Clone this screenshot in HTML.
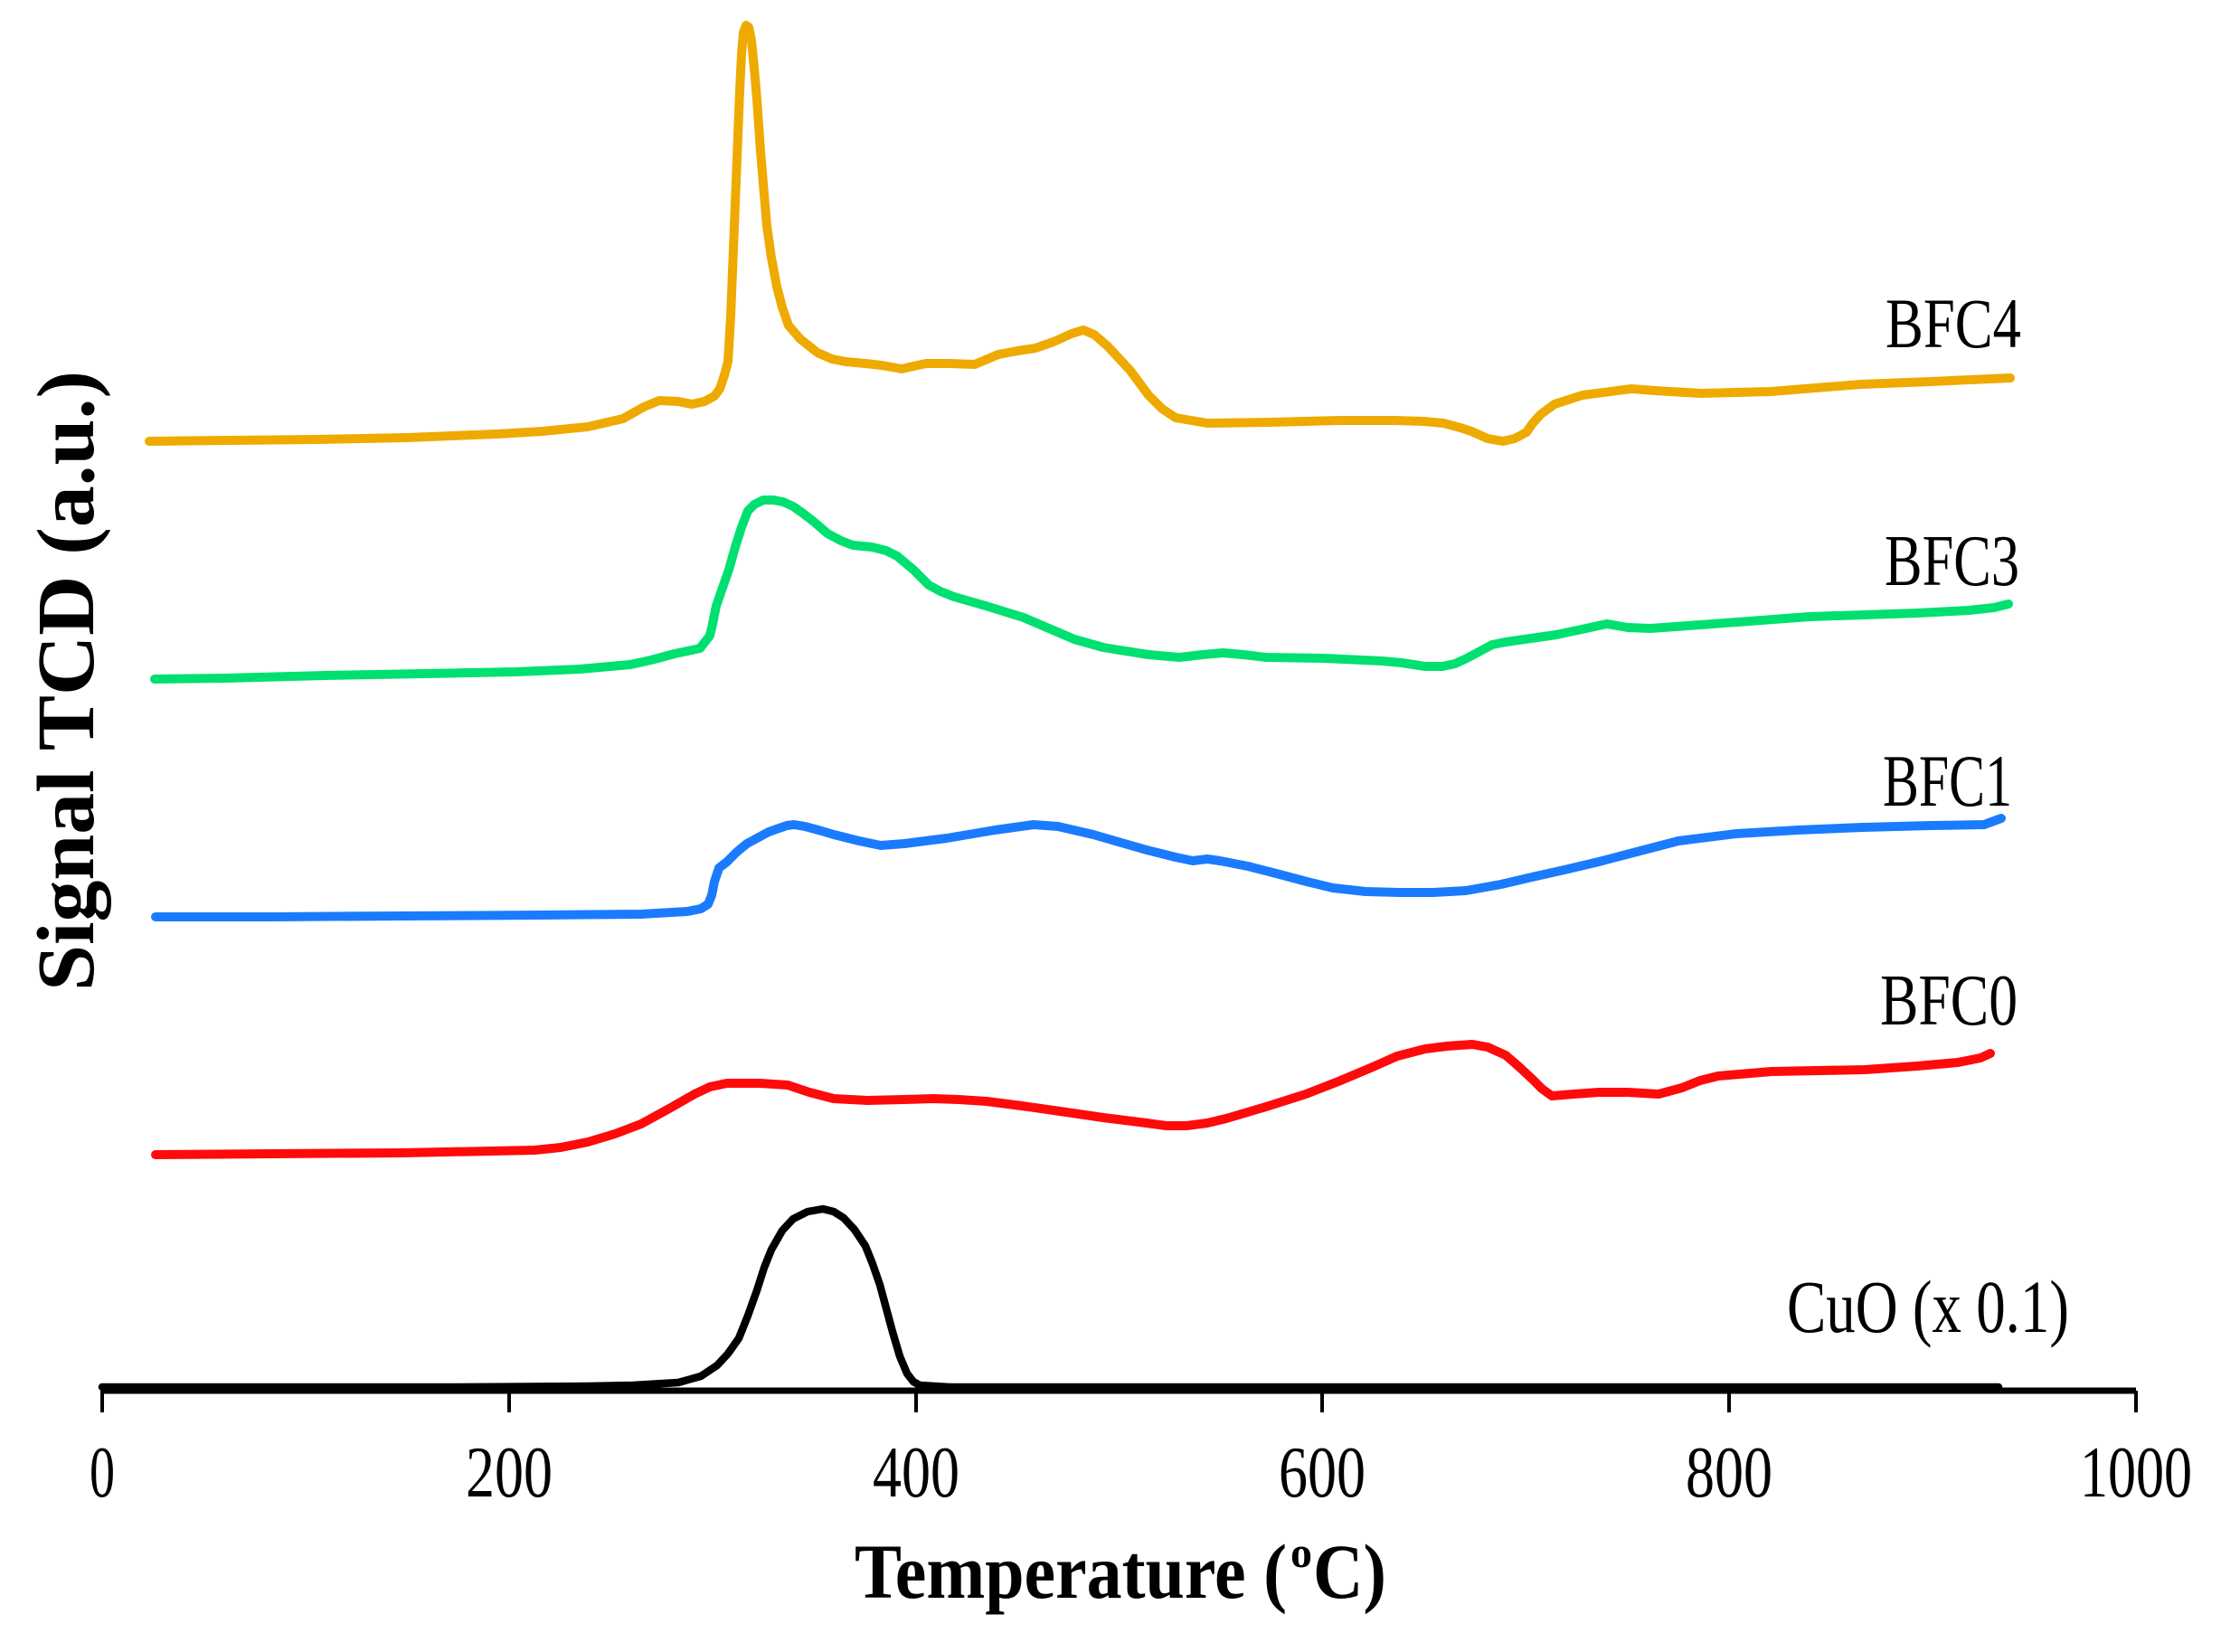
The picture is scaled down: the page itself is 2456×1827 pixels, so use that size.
<!DOCTYPE html>
<html>
<head>
<meta charset="utf-8">
<style>
html,body{margin:0;padding:0;background:#fff;}
svg{display:block;}
text{font-family:"Liberation Serif","Times New Roman",serif;fill:#000;}
</style>
</head>
<body>
<svg width="2456" height="1827" viewBox="0 0 2456 1827" xmlns="http://www.w3.org/2000/svg">
<rect width="2456" height="1827" fill="#fff"/>

<g fill="none" stroke-linejoin="round" stroke-linecap="round">
<!-- BFC4 -->
<polyline stroke="#EEAA00" stroke-width="10" points="165,488 250,487 350,486 450,484 550,480 600,477 650,472 689,463 712,450 729,443 750,444 765,447 779,444 790,438 796,430 801,415 805,400 808,350 810,300 812,250 814,200 816,150 818,100 820,60 822,36 825,28 828,30 831,45 834,75 837,110 841,167 845,215 848,250 853,285 859,317 865,340 872,360 885,375 904,390 920,397 935,400 957,402 975,404 997,408 1010,405 1024,402 1050,402 1078,403 1104,392 1125,388 1145,385 1165,378 1185,369 1198,365 1210,370 1225,383 1250,410 1270,437 1285,452 1300,462 1335,468 1404,467 1481,465 1542,465 1575,466 1596,468 1615,473 1627,477 1645,485 1662,488 1675,485 1688,478 1695,468 1704,458 1719,447 1750,437 1804,430 1830,432 1881,435 1958,433 2058,425 2135,422 2223,418"/>
<!-- BFC3 -->
<polyline stroke="#00E070" stroke-width="10" points="171,751 250,750 360,747 470,745 571,743 641,740 697,735 720,730 746,723 774,717 785,703 788,690 792,670 799,650 806,630 813,605 820,583 827,565 834,558 844,553 855,553 866,555 877,560 887,567 900,577 915,590 930,598 943,603 964,605 980,609 992,615 1010,630 1027,647 1040,654 1055,660 1090,670 1132,683 1160,695 1188,707 1220,716 1232,718 1270,724 1304,727 1330,724 1352,722 1375,724 1400,727 1464,728 1528,731 1550,733 1576,737 1595,737 1609,734 1622,728 1637,720 1650,713 1665,710 1721,702 1777,690 1800,694 1825,695 1921,688 2001,682 2121,678 2177,675 2205,672 2221,668"/>
<!-- BFC1 -->
<polyline stroke="#1A7BFF" stroke-width="10" points="172,1014 300,1014 444,1013 600,1012 709,1011 760,1008 775,1005 783,1000 787,990 790,975 795,960 804,953 815,942 826,933 850,920 870,913 878,912 890,914 905,918 922,923 950,930 974,935 1000,933 1047,927 1100,918 1143,912 1170,914 1209,923 1240,932 1268,940 1300,948 1319,952 1335,950 1349,952 1380,958 1415,967 1445,975 1474,982 1510,986 1547,987 1585,987 1621,985 1660,978 1694,970 1730,962 1768,953 1810,942 1856,930 1920,922 1988,918 2060,915 2135,913 2194,912 2213,905"/>
<!-- BFC0 -->
<polyline stroke="#FF0A0A" stroke-width="10" points="172,1277 300,1276 444,1275 591,1272 620,1269 650,1263 680,1254 709,1243 740,1226 768,1210 785,1202 804,1198 840,1198 871,1200 895,1208 922,1215 959,1217 1000,1216 1032,1215 1060,1216 1091,1218 1130,1223 1179,1230 1220,1236 1268,1242 1290,1245 1312,1245 1335,1242 1356,1237 1400,1224 1444,1210 1480,1196 1518,1180 1545,1168 1576,1160 1600,1157 1628,1155 1645,1158 1665,1167 1680,1180 1694,1193 1705,1204 1716,1212 1740,1210 1768,1208 1800,1208 1834,1210 1860,1203 1880,1195 1900,1190 1959,1185 2062,1183 2120,1179 2165,1175 2190,1170 2201,1165"/>
<!-- CuO -->
<polyline stroke="#000" stroke-width="8.5" points="113,1534 500,1534 650,1533 700,1532 750,1529 775,1522 793,1510 805,1497 817,1480 827,1455 837,1427 845,1402 853,1382 865,1361 877,1348 893,1340 910,1337 922,1340 933,1347 945,1360 957,1378 965,1398 973,1421 980,1447 987,1473 995,1500 1003,1519 1010,1528 1017,1532 1050,1534 2210,1534"/>
</g>

<!-- x axis -->
<line x1="113" y1="1538" x2="2362" y2="1538" stroke="#000" stroke-width="7"/>
<g stroke="#000" stroke-width="4">
<line x1="113" y1="1538" x2="113" y2="1562"/>
<line x1="563" y1="1538" x2="563" y2="1562"/>
<line x1="1013" y1="1538" x2="1013" y2="1562"/>
<line x1="1462" y1="1538" x2="1462" y2="1562"/>
<line x1="1912" y1="1538" x2="1912" y2="1562"/>
<line x1="2362" y1="1538" x2="2362" y2="1562"/>
</g>

<!-- tick labels -->
<g font-size="81" text-anchor="middle">
<text x="113" y="1655" textLength="28" lengthAdjust="spacingAndGlyphs">0</text>
<text x="563" y="1655" textLength="96" lengthAdjust="spacingAndGlyphs">200</text>
<text x="1013" y="1655" textLength="96" lengthAdjust="spacingAndGlyphs">400</text>
<text x="1462" y="1655" textLength="96" lengthAdjust="spacingAndGlyphs">600</text>
<text x="1912" y="1655" textLength="96" lengthAdjust="spacingAndGlyphs">800</text>
<text x="2362" y="1655" textLength="124" lengthAdjust="spacingAndGlyphs">1000</text>
</g>

<!-- x title -->
<g font-weight="bold" font-size="86">
<text x="945" y="1767" textLength="478" lengthAdjust="spacingAndGlyphs">Temperature (</text>
<text x="1427" y="1733" font-size="48" textLength="24" lengthAdjust="spacingAndGlyphs">o</text>
<text x="1452" y="1767" textLength="81" lengthAdjust="spacingAndGlyphs">C)</text>
</g>

<!-- y title -->
<text transform="translate(103,753) rotate(-90)" x="0" y="0" text-anchor="middle" font-weight="bold" font-size="90" textLength="686" lengthAdjust="spacingAndGlyphs">Signal TCD (a.u.)</text>

<!-- series labels -->
<text x="2085" y="384" font-size="78" textLength="150" lengthAdjust="spacingAndGlyphs">BFC4</text>
<text x="2084" y="647" font-size="80" textLength="149" lengthAdjust="spacingAndGlyphs">BFC3</text>
<text x="2082" y="891" font-size="82" textLength="143" lengthAdjust="spacingAndGlyphs">BFC1</text>
<text x="2079" y="1133" font-size="80" textLength="152" lengthAdjust="spacingAndGlyphs">BFC0</text>
<text x="1976" y="1473" font-size="83" textLength="312" lengthAdjust="spacingAndGlyphs">CuO (x 0.1)</text>
</svg>
</body>
</html>
